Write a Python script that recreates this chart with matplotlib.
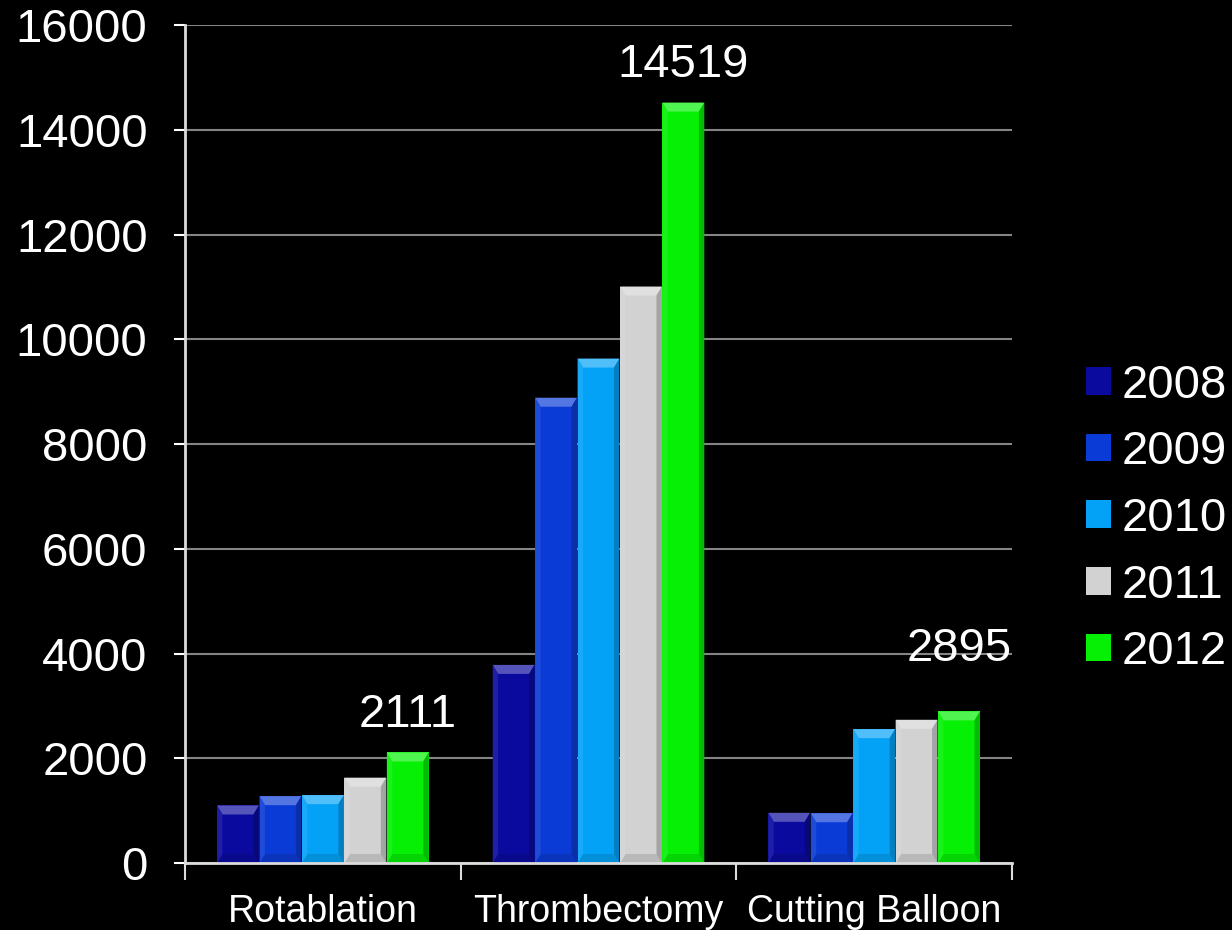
import numpy as np
import matplotlib
matplotlib.use("Agg")
import matplotlib.pyplot as plt
from matplotlib.patches import Polygon
from matplotlib.colors import to_rgb

plt.rcParams['font.family'] = ['Liberation Sans', 'DejaVu Sans']

# data
categories = ["Rotablation", "Thrombectomy", "Cutting Balloon"]
years = ["2008", "2009", "2010", "2011", "2012"]
values = {
    "2008": [1099, 3783, 959],
    "2009": [1277, 8884, 951],
    "2010": [1296, 9632, 2556],
    "2011": [1630, 11007, 2735],
    "2012": [2111, 14519, 2895],
}
# labelled values (only on the 2012 bars) and their offsets above the bar, in points
label_offsets = [27, 27, 45]

COLORS = {
    "2008": "#0a0a9e",
    "2009": "#0b3bd6",
    "2010": "#04a2f7",
    "2011": "#d2d2d2",
    "2012": "#05f005",
}


def mix(c, other, t):
    c = np.array(to_rgb(c))
    o = np.array(to_rgb(other))
    return tuple(c * (1 - t) + o * t)


fig = plt.figure(figsize=(12.32, 9.30), dpi=100, facecolor="black")
ax = fig.add_axes([0.1502, 0.0720, 0.6712, 0.9011])
ax.set_facecolor("black")

ax.set_xlim(-0.5, 2.5)
ax.set_ylim(0, 16000)

x = np.arange(len(categories))
bar_w = 0.154
bars = {}
for i, yr in enumerate(years):
    pos = x + (i - 2) * bar_w
    bars[yr] = ax.bar(pos, values[yr], width=bar_w * 0.985, color=COLORS[yr],
                      label=yr, zorder=3, linewidth=0)

# pixel -> data sizes for the bevel
ax_w_px = 0.6712 * 1232
ax_h_px = 0.9011 * 930
px_x = 3.0 / ax_w_px
px_y = 16000 / ax_h_px
bev = 9

for yr in years:
    c = COLORS[yr]
    for rect in bars[yr]:
        x0 = rect.get_x()
        x1 = x0 + rect.get_width()
        h = rect.get_height()
        bx = bev * px_x * 0.6
        by = bev * px_y
        top = [(x0, h), (x1, h), (x1 - bx, h - by), (x0 + bx, h - by)]
        bot = [(x0, 0), (x1, 0), (x1 - bx, by), (x0 + bx, by)]
        left = [(x0, 0), (x0, h), (x0 + bx, h - by), (x0 + bx, by)]
        right = [(x1, 0), (x1, h), (x1 - bx, h - by), (x1 - bx, by)]
        ax.add_patch(Polygon(top, closed=True, color=mix(c, "white", 0.3), lw=0, zorder=4))
        ax.add_patch(Polygon(bot, closed=True, color=mix(c, "black", 0.12), lw=0, zorder=4))
        ax.add_patch(Polygon(left, closed=True, color=mix(c, "white", 0.08), lw=0, zorder=4))
        ax.add_patch(Polygon(right, closed=True, color=mix(c, "black", 0.22), lw=0, zorder=4))

# value labels on the 2012 bars
for rect, off in zip(bars["2012"], label_offsets):
    h = rect.get_height()
    ax.annotate(f"{h:d}", (rect.get_x() + rect.get_width() / 2, h),
                xytext=(0, off), textcoords="offset points",
                ha="center", va="center", color="white", fontsize=34, zorder=5)

# grid and axes
ax.set_yticks(np.arange(0, 16001, 2000))
ax.yaxis.grid(True, color="#858585", linewidth=1.5, zorder=1)
ax.set_axisbelow(True)
ax.tick_params(axis="y", colors="white", labelsize=34, length=8, width=1.5,
               direction="out", pad=19)
ax.set_yticklabels([f"{v:d}" for v in range(0, 16001, 2000)], color="white")

ax.set_xticks([-0.5, 0.5, 1.5, 2.5])
ax.set_xticklabels([])
ax.set_xticks(x, minor=True)
ax.set_xticklabels(categories, minor=True)
ax.tick_params(axis="x", which="major", colors="#dcdcdc", length=12, width=1.5,
               direction="out")
ax.tick_params(axis="x", which="minor", length=0, labelsize=27, labelcolor="white",
               pad=22)

for s in ["top", "right"]:
    ax.spines[s].set_visible(False)
for s in ["left", "bottom"]:
    ax.spines[s].set_color("#dcdcdc")
    ax.spines[s].set_linewidth(2)
    ax.spines[s].set_zorder(6)

leg = fig.legend(loc="center left", bbox_to_anchor=(0.8815, 0.442), frameon=False,
                 fontsize=34, labelcolor="white", handlelength=0.53,
                 handleheight=0.53, handletextpad=0.23, labelspacing=0.48,
                 borderpad=0, borderaxespad=0)

fig.savefig("out.png", dpi=100, facecolor="black")
